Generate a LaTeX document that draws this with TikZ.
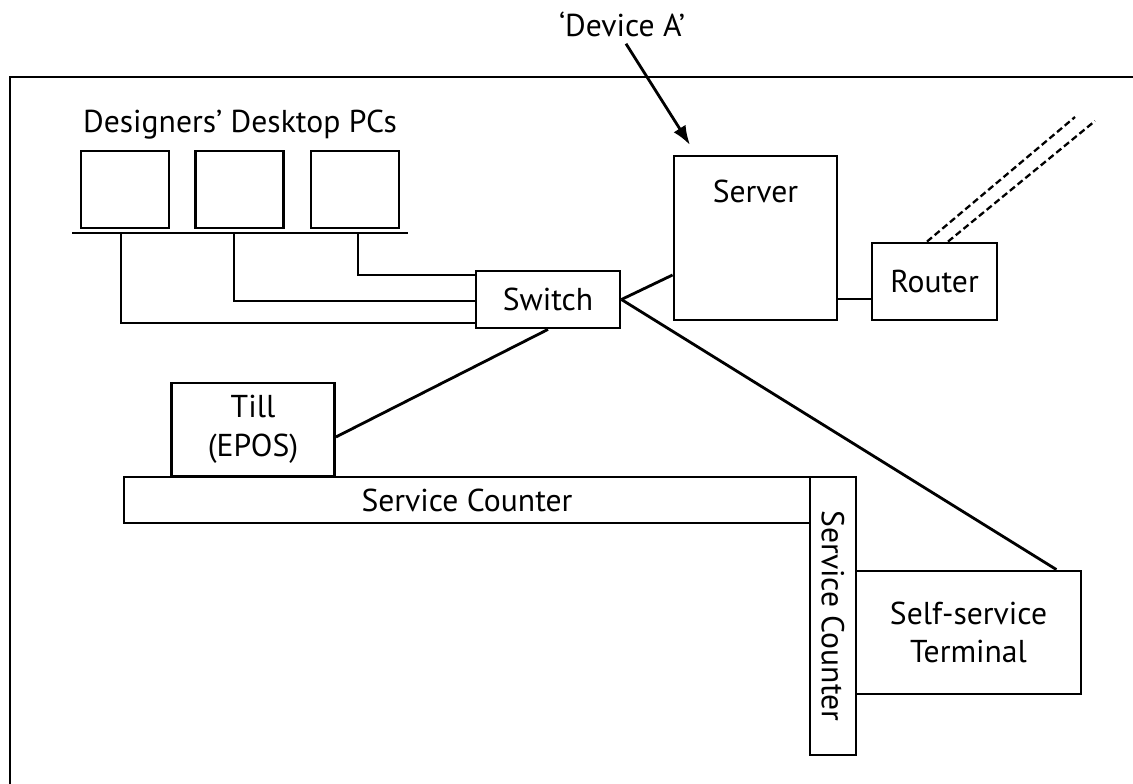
\documentclass[tikz,border=0pt]{standalone}
\usepackage{fontspec}
\setmainfont{PT Sans}
\usetikzlibrary{arrows.meta}

\begin{document}
\begin{tikzpicture}[>={Latex[length=11pt,width=8pt]}, line width=1.6pt,
        font=\fontsize{18}{22}\selectfont,
        unit/.style={draw, inner sep=0pt, align=center},
        wan/.style={line width=1.3pt, dash pattern=on 0.13cm off 0.07cm}]
        \useasboundingbox (0,0) rectangle (22.66,15.68);
        % shop wall, runs off the page
        \draw (0.2,0) |- (22.66,14.14);

        \node (devA) at (12.44,15.2) {`Device A'};
        \coordinate (devAtip) at (13.8,12.78);
        \draw[->] ([xshift=0.08cm]devA.south) -- (devAtip);

        \node[unit, minimum width=3.26cm, minimum height=3.28cm,
            label={[anchor=center, yshift=-0.74cm]north:Server}] (server) at (15.11,10.92) {};
        \node[unit, minimum width=2.5cm, minimum height=1.54cm] (router) at (18.69,10.05) {Router};
        \draw (server.east |- 0,9.7) -- (router.west |- 0,9.7);

        \coordinate (wan1) at (21.5,13.34);
        \coordinate (wan2) at (21.9,13.26);
        \draw[wan] ([xshift=-0.15cm]router.north) -- (wan1);
        \draw[wan] ([xshift=0.27cm]router.north) -- (wan2);

        \node (pclabel) at (4.8,13.18) {Designers' Desktop PCs};
        \foreach \i/\x in {1/2.5,2/4.79,3/7.1}
        {
            \node[unit, minimum width=1.76cm, minimum height=1.54cm] (pc\i) at (\x,11.89) {};
        }
        \coordinate (deskL) at (1.44,11.02);
        \coordinate (deskR) at (8.16,11.02);
        \draw (deskL) -- (deskR);

        \node[unit, minimum width=2.88cm, minimum height=1.14cm] (switch) at (10.96,9.69) {Switch};
        \foreach \i/\dx/\wy in {1/-0.08/9.22,2/-0.11/9.66,3/0.06/10.18}
        {
            \draw ([xshift=\dx cm]pc\i.south |- deskL) |- (switch.west |- 0,\wy);
        }

        \node[unit, minimum width=3.26cm, minimum height=1.86cm] (till) at (5.06,7.09) {Till\\(EPOS)};
        \node[unit, minimum width=13.72cm, minimum height=0.92cm] (counter) at (9.34,5.68) {Service Counter};
        \node[unit, minimum width=5.56cm, minimum height=0.92cm, rotate=-90] (counterside) at (16.66,3.36) {Service Counter};
        \node[unit, minimum width=4.5cm, minimum height=2.46cm] (terminal) at (19.37,3.03) {Self-service\\Terminal};

        \draw (switch.east) -- (server.west |- 0,10.18);
        \draw (switch.east) -- ([xshift=-0.52cm]terminal.north east);
        \draw (switch.south) -- ([yshift=-0.15cm]till.east);

    \end{tikzpicture}
\end{document}
